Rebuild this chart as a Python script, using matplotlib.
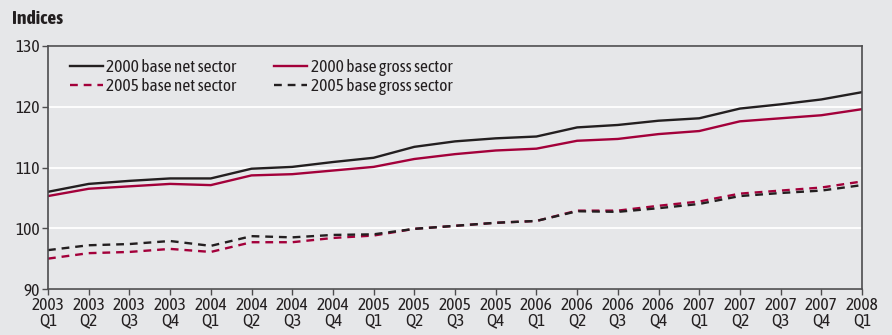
import matplotlib
matplotlib.use("Agg")
import matplotlib.pyplot as plt

plt.rcParams['font.family'] = ['Asap Condensed', 'Roboto', 'DejaVu Sans']

quarters = ["2003\nQ1", "2003\nQ2", "2003\nQ3", "2003\nQ4",
            "2004\nQ1", "2004\nQ2", "2004\nQ3", "2004\nQ4",
            "2005\nQ1", "2005\nQ2", "2005\nQ3", "2005\nQ4",
            "2006\nQ1", "2006\nQ2", "2006\nQ3", "2006\nQ4",
            "2007\nQ1", "2007\nQ2", "2007\nQ3", "2007\nQ4",
            "2008\nQ1"]

net_2000 = [106.0, 107.3, 107.8, 108.2, 108.2, 109.8, 110.1, 110.9, 111.6, 113.4,
            114.3, 114.8, 115.1, 116.6, 117.0, 117.7, 118.1, 119.7, 120.4, 121.2, 122.4]
gross_2000 = [105.3, 106.5, 106.9, 107.3, 107.1, 108.7, 108.9, 109.5, 110.1, 111.4,
              112.2, 112.8, 113.1, 114.4, 114.7, 115.5, 116.0, 117.6, 118.1, 118.6, 119.6]
net_2005 = [95.0, 95.9, 96.1, 96.6, 96.1, 97.7, 97.7, 98.4, 98.8, 99.9,
            100.4, 100.9, 101.2, 102.9, 102.9, 103.7, 104.4, 105.7, 106.2, 106.7, 107.7]
gross_2005 = [96.4, 97.2, 97.4, 97.9, 97.1, 98.7, 98.5, 98.9, 99.0, 99.9,
              100.4, 100.9, 101.2, 102.8, 102.7, 103.3, 104.0, 105.3, 105.8, 106.2, 107.1]

series_labels = ["2000 base net sector", "2005 base net sector",
                 "2000 base gross sector", "2005 base gross sector"]

BG = "#e6e7e9"
RED = "#a3003a"
BLACK = "#231f20"
AX = "#4d4d4f"
FS = 12.5

fig = plt.figure(figsize=(8.92, 3.35), dpi=100, facecolor=BG)
ax = fig.add_axes([48/892, 1-289/335, (862-48)/892, (289-46)/335])
ax.set_facecolor(BG)

x = list(range(len(quarters)))
lw = 1.7
dash = (3.3, 2.5)
l1, = ax.plot(x, net_2000, color=BLACK, lw=lw, solid_joinstyle='round')
l2, = ax.plot(x, gross_2000, color=RED, lw=lw, solid_joinstyle='round')
l3, = ax.plot(x, net_2005, color=RED, lw=lw, linestyle=(0, dash))
l4, = ax.plot(x, gross_2005, color=BLACK, lw=lw, linestyle=(0, dash))

ax.set_xlim(0, len(quarters) - 1)
ax.set_ylim(90, 130)
ax.set_yticks([90, 100, 110, 120, 130])
ax.set_xticks(x)
ax.set_xticklabels(quarters, linespacing=0.85)
ax.grid(axis='y', color='white', lw=1.3)
ax.set_axisbelow(True)
for s in ax.spines.values():
    s.set_color(AX)
    s.set_linewidth(1.2)
ax.tick_params(axis='both', colors=AX, labelcolor='#231f20', labelsize=FS, length=4, width=1)
ax.tick_params(axis='x', pad=2)
ax.tick_params(axis='y', pad=2)

fig.text(12/892, 1-19/335, "Indices", fontsize=14, fontweight='bold', color='#231f20',
         va='center', ha='left')

leg = ax.legend([l1, l3, l2, l4], series_labels,
                ncol=2, loc='upper left', bbox_to_anchor=(0.018, 0.975), frameon=False,
                fontsize=FS, handlelength=1.9, handletextpad=0.2, columnspacing=2.2,
                labelspacing=0.12, borderaxespad=0)
for t in leg.get_texts():
    t.set_color('#231f20')

fig.savefig("out.png", dpi=100, facecolor=BG)
